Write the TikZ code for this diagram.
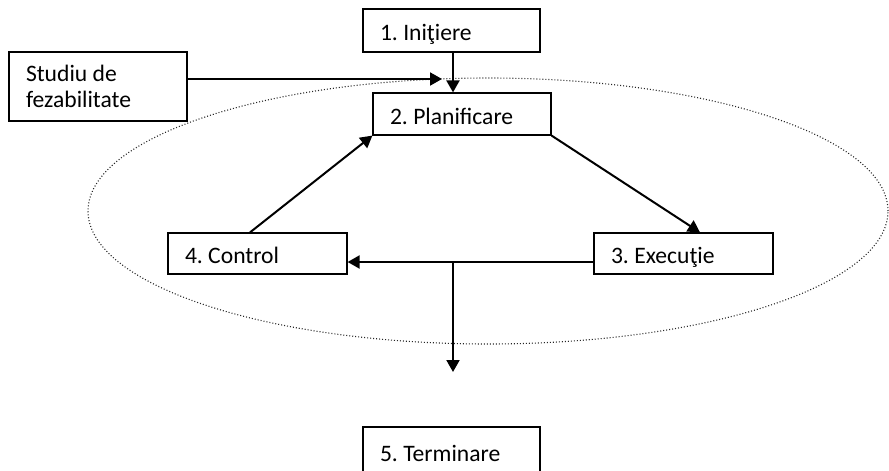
\documentclass[tikz,border=0pt]{standalone}
\usepackage{fontspec}
\setmainfont{Carlito}
\usetikzlibrary{arrows.meta}
\tikzset{
	stage/.style={draw, line width=0.6pt, fill=white, inner xsep=8.5pt, inner ysep=0pt, align=flush left, font=\fontsize{11.8pt}{13pt}\selectfont\frenchspacing},
	oneline/.style={stage, text height=10.4pt, text depth=0pt},
	flow/.style={line width=1pt, -{Triangle[length=6pt,width=6.5pt]}}
}
\begin{document}
\begin{tikzpicture}[x=0.5pt,y=-0.5pt,line join=miter]
	\useasboundingbox (0,0) rectangle (889,471);
	\draw[black!85, line width=0.55pt, dash pattern=on 0.5pt off 1pt] (488,211) ellipse [x radius=200pt, y radius=66.5pt];
	\node[oneline, text width=71.5pt, minimum height=21.5pt] (init) at (451.5,30.5) {1. Iniţiere};
	\node[stage, text width=72pt, minimum height=34.5pt] (feas) at (98,86.5) {Studiu de\\fezabilitate};
	\node[oneline, text width=72pt, minimum height=21pt] (plan) at (462,114) {2. Planificare};
	\node[oneline, text width=72.5pt, minimum height=20.5pt] (exec) at (683.5,253.5) {3. Execuţie};
	\node[oneline, text width=72.5pt, minimum height=20.5pt] (ctrl) at (257.5,253.5) {4. Control};
	\node[oneline, text width=71.5pt, minimum height=24.5pt] (term) at (451.5,451.5) {5. Terminare};
	\coordinate (join) at (442,79);
	\coordinate (split) at (453,262);
	\coordinate (out) at (453,372);
	\draw[flow] (feas.east |- join) -- (join);
	\draw[flow] (init.south -| split) -- (plan.north -| split);
	\draw[flow] (plan.south east) -- ([xshift=8.25pt]exec.north);
	\draw[flow] ([xshift=-3.75pt]ctrl.north) -- (plan.south west);
	\draw[flow] (exec.west |- split) -- (ctrl.east |- split);
	\draw[flow] (split) -- (out);
\end{tikzpicture}
\end{document}
